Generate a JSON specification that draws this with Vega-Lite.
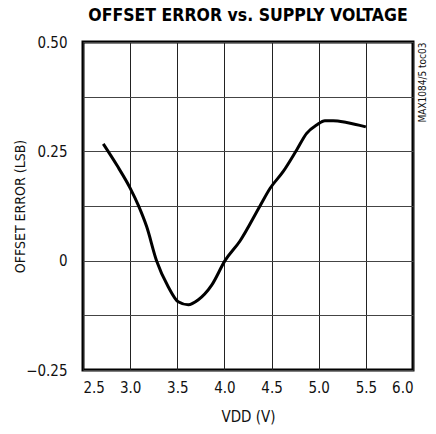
{
  "$schema": "https://vega.github.io/schema/vega-lite/v6.json",
  "width": 330,
  "height": 328,
  "autosize": {"type": "none"},
  "padding": {"left": 83, "top": 42, "right": 23, "bottom": 64},
  "background": "white",
  "title": {
    "text": "OFFSET ERROR vs. SUPPLY VOLTAGE",
    "font": "DejaVu Sans Condensed, sans-serif",
    "fontSize": 17.5,
    "fontWeight": "bold",
    "color": "black",
    "anchor": "middle",
    "offset": 11
  },
  "config": {
    "view": {"stroke": "black", "strokeWidth": 3},
    "axis": {
      "labelFont": "DejaVu Sans Condensed, sans-serif",
      "titleFont": "DejaVu Sans Condensed, sans-serif",
      "labelFontSize": 15,
      "titleFontSize": 15,
      "titleFontWeight": "normal",
      "labelColor": "#111",
      "titleColor": "#111",
      "domain": false,
      "ticks": false,
      "gridColor": "#222",
      "gridWidth": 1,
      "gridOpacity": 1
    }
  },
  "data": {
    "values": [
      {"v": 2.715, "e": 0.267},
      {"v": 2.86, "e": 0.218},
      {"v": 3.0, "e": 0.166},
      {"v": 3.086, "e": 0.127},
      {"v": 3.175, "e": 0.078},
      {"v": 3.28, "e": 0.0},
      {"v": 3.405, "e": -0.06},
      {"v": 3.51, "e": -0.094},
      {"v": 3.617, "e": -0.101},
      {"v": 3.72, "e": -0.09},
      {"v": 3.865, "e": -0.056},
      {"v": 4.006, "e": 0.0},
      {"v": 4.165, "e": 0.045},
      {"v": 4.377, "e": 0.125},
      {"v": 4.483, "e": 0.165},
      {"v": 4.624, "e": 0.204},
      {"v": 4.766, "e": 0.253},
      {"v": 4.872, "e": 0.291},
      {"v": 4.978, "e": 0.31},
      {"v": 5.066, "e": 0.32},
      {"v": 5.154, "e": 0.32},
      {"v": 5.296, "e": 0.316},
      {"v": 5.5, "e": 0.306}
    ]
  },
  "resolve": {"axis": {"y": "independent"}},
  "layer": [
    {
      "mark": {"type": "line", "color": "black", "strokeWidth": 3, "interpolate": "monotone"},
      "encoding": {
        "x": {
          "field": "v", "type": "quantitative",
          "scale": {"domain": [2.5, 6.0], "nice": false, "zero": false},
          "axis": {
            "values": [2.5, 3.0, 3.5, 4.0, 4.5, 5.0, 5.5, 6.0],
            "format": ".1f",
            "labelPadding": 10,
            "title": "VDD (V)",
            "titlePadding": 14
          }
        },
        "y": {
          "field": "e", "type": "quantitative",
          "scale": {"domain": [-0.25, 0.5], "nice": false, "zero": false},
          "axis": {
            "orient": "left",
            "values": [-0.25, -0.125, 0, 0.125, 0.25, 0.375, 0.5],
            "labelExpr": "datum.value == 0 ? '0' : (abs(datum.value * 4 - round(datum.value * 4)) < 0.000001 ? format(datum.value, '.2f') : '')",
            "labelPadding": 16,
            "gridColor": "#444",
            "title": "OFFSET ERROR (LSB)",
            "titleFontSize": 14,
            "titlePadding": -2
          }
        }
      }
    },
    {
      "mark": {"type": "line", "strokeOpacity": 0},
      "encoding": {
        "x": {"field": "v", "type": "quantitative"},
        "y": {
          "field": "e", "type": "quantitative",
          "axis": {
            "orient": "right",
            "labels": false,
            "ticks": false,
            "grid": false,
            "domain": false,
            "title": "MAX1084/5 toc03",
            "titleFontSize": 10,
            "titleAngle": 270,
            "titleAnchor": "end",
            "titleAlign": "right",
            "titlePadding": 14,
            "titleBaseline": "bottom"
          }
        }
      }
    }
  ]
}
